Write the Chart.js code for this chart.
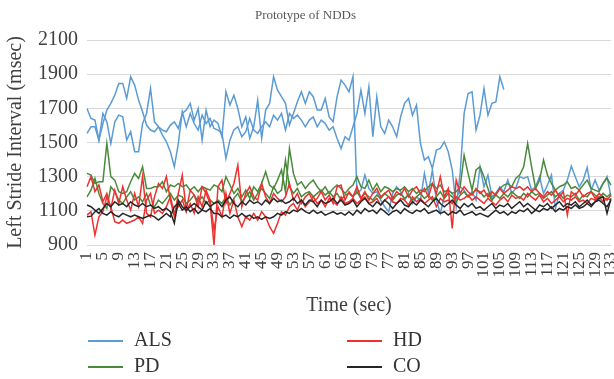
<!DOCTYPE html>
<html>
<head>
<meta charset="utf-8">
<script src="https://cdn.jsdelivr.net/npm/chart.js@4.4.1/dist/chart.umd.min.js"></script>
<style>
  html, body { margin: 0; padding: 0; background: #fff; }
</style>
</head>
<body>
<canvas id="strideChart" width="614" height="379"></canvas>
<script>
// time axis, 1..133 seconds
let timeLabels = [];
for (let t = 1; t <= 133; t++) timeLabels.push(String(t));

let yTicks = [900, 1100, 1300, 1500, 1700, 1900, 2100];

// two subjects per group, left stride interval (msec)
let alsA = [
  1699,1641,1631,1514,1670,1621,1494,1621,1660,1650,1514,1563,1446,1446,1611,1670,1816,1621,1592,1573,1563,1602,1621,1582,1670,1690,1729,1631,1699,1514,1690,1592,1631,
  1611,1534,1797,1719,1777,1699,1592,1650,1524,1592,1748,1524,1690,1729,1885,1806,1768,1729,1602,1670,1738,1797,1729,1797,1768,1690,1690,1758,1650,1621,1768,1865,1836,
  1797,1885,1202,1221,1309,1231,1202,1212,1163,1124,1095,1202,1241,1212,1163,1202,1143,1182,1163,1319,1202,1339,1163,1085,1182,1221,1202,1163,1241,1221,1182,1212,1163,
  1358,1241,1309,1182,1202,1241,1212,1280,1202,1231,1300,1290,1300,1221,1241,1300,1202,1251,1309,1114,1202,1221,1280,1362,1300,1241,1280,1354,1221,1280,1221,1261,1300,1182
];
let alsB = [
  1553,1592,1592,1514,1611,1690,1729,1777,1846,1846,1758,1885,1836,1748,1680,1602,1573,1563,1592,1543,1504,1446,1358,1494,1680,1592,1670,1611,1573,1660,1611,1641,1582,
  1573,1553,1407,1514,1573,1592,1534,1563,1641,1573,1553,1592,1621,1592,1660,1631,1670,1573,1670,1641,1660,1631,1592,1631,1650,1592,1631,1611,1573,1592,1524,1465,1534,
  1514,1592,1670,1806,1670,1826,1534,1768,1592,1553,1631,1592,1534,1650,1729,1758,1660,1719,1494,1397,1417,1348,1456,1465,1504,1446,1339,1124,1319,1670,1787,1797,1573,
  1660,1816,1660,1729,1738,1885,1810
];
let pdA = [
  1319,1309,1260,1270,1270,1494,1300,1280,1212,1202,1212,1270,1319,1290,1358,1231,1231,1241,1241,1270,1212,1251,1241,1260,1241,1251,1221,1241,1212,1241,1231,1221,1251,
  1241,1212,1300,1251,1202,1231,1182,1221,1173,1241,1212,1260,1329,1251,1231,1280,1339,1212,1465,1319,1251,1270,1231,1260,1280,1241,1212,1241,1202,1231,1251,1231,1202,
  1231,1251,1300,1241,1231,1280,1221,1260,1212,1241,1231,1212,1231,1221,1241,1212,1231,1202,1221,1212,1241,1260,1231,1251,1212,1221,1202,1212,1241,1426,1319,1221,1339,
  1358,1300,1231,1163,1202,1231,1251,1260,1241,1290,1309,1358,1494,1358,1231,1280,1397,1309,1260,1221,1241,1251,1270,1231,1241,1221,1251,1280,1231,1221,1212,1260,1290,1251
];
let pdB = [
  1182,1221,1290,1202,1143,1114,1241,1212,1163,1143,1182,1212,1163,1182,1153,1202,1134,1124,1163,1143,1173,1202,1163,1192,1182,1143,1163,1192,1153,1182,1143,1163,1143,
  1163,1143,1182,1134,1173,1202,1153,1182,1212,1163,1202,1231,1202,1173,1241,1202,1221,1397,1241,1202,1231,1182,1202,1212,1182,1202,1221,1192,1212,1182,1202,1163,1192,
  1202,1182,1212,1173,1202,1182,1163,1192,1173,1202,1182,1163,1192,1202,1173,1192,1163,1182,1202,1173,1192,1163,1182,1212,1173,1202,1182,1153,1192,1212,1182,1202,1221,
  1212,1182,1202,1163,1192,1173,1202,1182,1212,1192,1173,1202,1182,1212,1192,1202,1173,1192,1212,1182,1202,1173,1192,1182,1202,1163,1192,1182,1212,1192,1173,1202,1182,1202
];
let hdA = [
  1241,1300,1212,1251,1153,1202,1114,1221,1143,1241,1163,1104,1202,1124,1300,1085,1065,1182,1260,1231,1300,1163,1065,1202,1309,1104,1221,1192,1124,1241,1202,1143,900,
  1241,1280,1143,1202,1260,1368,1124,1202,1241,1182,1163,1260,1182,1143,1202,1173,1153,1182,1260,1163,1202,1143,1182,1202,1153,1173,1212,1163,1192,1143,1241,1251,1163,
  1212,1182,1241,1173,1212,1163,1202,1231,1182,1202,1221,1173,1212,1192,1231,1182,1221,1241,1202,1231,1182,1260,1202,1300,1182,1231,997,1280,1202,1241,1212,1192,1231,
  1202,1221,1182,1212,1192,1231,1202,1221,1241,1231,1241,1221,1241,1212,1231,1202,1182,1212,1192,1221,1182,1212,1075,1212,1192,1221,1182,1202,1212,1173,1202,1182,1163,1192
];
let hdB = [
  1075,1095,958,1065,1095,1182,1124,1036,1027,1046,1027,1036,1046,1065,1027,1163,1202,1085,1104,1085,1124,1182,1085,1124,1163,1095,1143,1085,1182,1124,1221,1163,987,
  1124,1065,1202,1085,1163,1065,1007,1065,1046,1085,1046,1095,1065,1007,968,1027,1095,1075,1124,1143,1104,1163,1124,1153,1182,1143,1163,1124,1173,1153,1134,1182,1143,
  1153,1173,1143,1163,1182,1143,1153,1173,1134,1163,1182,1153,1143,1173,1163,1134,1182,1153,1173,1143,1163,1182,1124,1173,1153,1163,1143,1182,1163,1173,1192,1163,1182,
  1163,1143,1173,1153,1134,1163,1182,1153,1192,1173,1182,1163,1202,1182,1163,1192,1153,1173,1143,1163,1182,1153,1173,1163,1182,1153,1163,1143,1173,1163,1182,1153,1173,1163
];
let coA = [
  1134,1124,1104,1085,1114,1143,1124,1153,1134,1143,1124,1153,1134,1124,1143,1124,1134,1114,1124,1104,1114,1095,1027,1163,1124,1104,1124,1143,1124,1104,1153,1124,1143,
  1153,1124,1163,1182,1143,1124,1153,1134,1163,1143,1153,1134,1163,1143,1173,1153,1163,1143,1153,1173,1143,1163,1134,1163,1153,1124,1163,1143,1153,1173,1143,1163,1134,
  1143,1163,1124,1153,1173,1143,1124,1153,1134,1163,1143,1114,1143,1163,1134,1124,1153,1134,1163,1143,1124,1153,1173,1143,1124,1143,1163,1134,1114,1143,1124,1143,1114,
  1124,1104,1124,1143,1114,1134,1124,1143,1114,1134,1153,1124,1143,1124,1104,1134,1124,1143,1114,1134,1153,1124,1143,1134,1153,1124,1143,1163,1134,1153,1173,1182,1085,1173
];
let coB = [
  1065,1069,1095,1114,1085,1075,1095,1075,1065,1085,1075,1065,1075,1065,1056,1065,1075,1065,1046,1065,1085,1065,1124,1143,1104,1124,1095,1114,1085,1104,1095,1114,1085,
  1085,1065,1075,1056,1075,1065,1085,1065,1075,1056,1065,1050,1065,1056,1065,1085,1075,1095,1085,1104,1095,1114,1095,1085,1104,1085,1095,1075,1085,1095,1081,1089,1075,
  1095,1075,1104,1085,1114,1095,1104,1085,1114,1095,1075,1095,1104,1085,1114,1095,1085,1104,1095,1114,1085,1095,1104,1085,1095,1075,1095,1085,1104,1075,1085,1095,1075,
  1085,1075,1065,1085,1104,1085,1095,1075,1095,1085,1104,1095,1114,1085,1104,1095,1114,1104,1124,1095,1114,1104,1124,1114,1134,1114,1124,1143,1124,1153,1163,1143,1124,1163
];

let groupNames = ['ALS', 'HD', 'PD', 'CO'];
let groupColors = {ALS: '#5b9bd5', HD: '#ee3030', PD: '#4a8a3a', CO: '#262626'};

const FONT = "'Liberation Serif', 'Times New Roman', serif";

function makeLine(name, data) {
    return {
        label: name,
        data: data,
        borderColor: groupColors[name],
        backgroundColor: groupColors[name],
        borderWidth: 1.5,
        pointRadius: 0,
        tension: 0,
        fill: false
    };
}

// legend in two columns below the axis title, like the original
const legendBelow = {
    id: 'legendBelow',
    afterDraw(chart) {
        let ctx = chart.ctx;
        let colX = [88, 347];
        let rowY = [341, 367];
        ctx.save();
        ctx.font = '20px ' + FONT;
        ctx.textBaseline = 'middle';
        ctx.textAlign = 'left';
        groupNames.forEach((name, i) => {
            let x = colX[i % 2];
            let y = rowY[Math.floor(i / 2)];
            ctx.strokeStyle = groupColors[name];
            ctx.lineWidth = 2;
            ctx.beginPath();
            ctx.moveTo(x, y);
            ctx.lineTo(x + 35, y);
            ctx.stroke();
            ctx.fillStyle = '#333333';
            ctx.fillText(name, x + 46, y);
        });
        ctx.restore();
    }
};

let ctx = document.getElementById('strideChart').getContext('2d');
let chartInstance = new Chart(ctx, {
    type: 'line',
    data: {
        labels: timeLabels,
        datasets: [
            makeLine('CO', coA), makeLine('CO', coB),
            makeLine('HD', hdA), makeLine('HD', hdB),
            makeLine('PD', pdA), makeLine('PD', pdB),
            makeLine('ALS', alsA), makeLine('ALS', alsB)
        ]
    },
    options: {
        responsive: false,
        animation: false,
        devicePixelRatio: 1,
        layout: { padding: { left: 0, right: 3, top: 0, bottom: 59 } },
        plugins: {
            legend: { display: false },
            tooltip: { enabled: false },
            title: {
                display: true,
                text: 'Prototype of NDDs',
                color: '#595959',
                font: { family: FONT, size: 13, weight: 'normal' },
                padding: { top: 8, bottom: 16.4 }
            }
        },
        scales: {
            x: {
                offset: false,
                grid: { display: false, drawTicks: false },
                border: { display: false },
                ticks: {
                    autoSkip: false,
                    maxRotation: 90,
                    minRotation: 90,
                    padding: 7,
                    color: '#404040',
                    font: { family: FONT, size: 17 },
                    callback: (val, i) => (i % 4 === 0 ? timeLabels[i] : '')
                },
                title: {
                    display: true,
                    text: 'Time (sec)',
                    color: '#404040',
                    font: { family: FONT, size: 20 },
                    padding: { top: 0, bottom: 2 }
                },
                afterFit: scale => {
                    scale.height = 75;
                    scale.paddingLeft = 0;
                    scale.paddingRight = 0;
                }
            },
            y: {
                min: yTicks[0],
                max: yTicks[yTicks.length - 1],
                afterBuildTicks: scale => { scale.ticks = yTicks.map(v => ({ value: v })); },
                grid: { color: '#d9d9d9', lineWidth: 1, drawTicks: false },
                border: { display: false },
                ticks: {
                    padding: 9,
                    color: '#404040',
                    font: { family: FONT, size: 20 },
                    callback: v => String(v)
                },
                title: {
                    display: true,
                    text: 'Left Stride Interval (msec)',
                    color: '#404040',
                    font: { family: FONT, size: 20 },
                    padding: { top: 4, bottom: 0 }
                },
                afterFit: scale => { scale.width = 87; }
            }
        }
    },
    plugins: [legendBelow]
});
</script>
</body>
</html>
